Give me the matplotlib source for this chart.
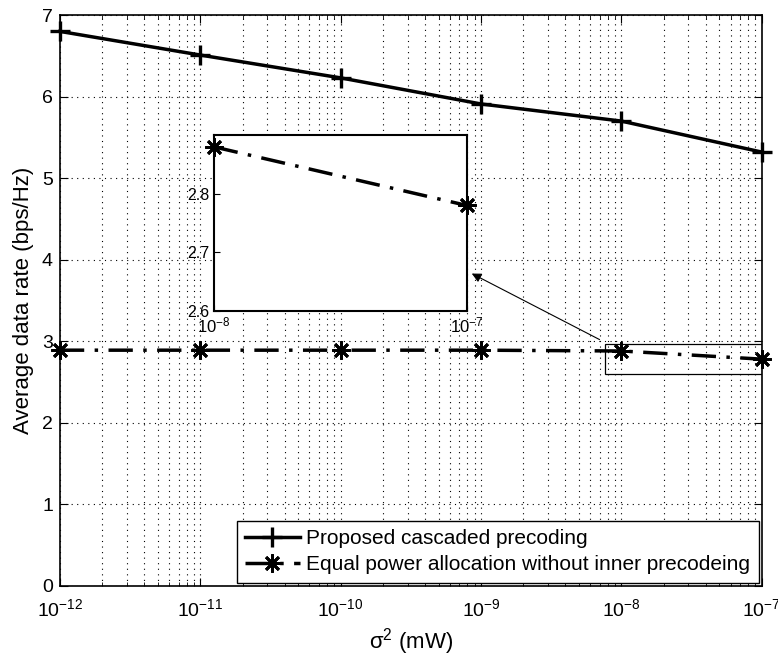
import matplotlib
matplotlib.use("Agg")
import matplotlib.pyplot as plt
from matplotlib.patches import Rectangle

plt.rcParams['font.family'] = ['Liberation Sans', 'DejaVu Sans']
plt.rcParams['mathtext.fontset'] = 'custom'
plt.rcParams['mathtext.rm'] = 'Liberation Sans'
plt.rcParams['mathtext.it'] = 'Liberation Sans:italic'

sigma2 = [1e-12, 1e-11, 1e-10, 1e-9, 1e-8, 1e-7]
proposed = [6.80, 6.51, 6.23, 5.91, 5.70, 5.32]
equal_power = [2.89, 2.89, 2.89, 2.89, 2.88, 2.78]
labels = ["Proposed cascaded precoding",
          "Equal power allocation without inner precodeing"]

fig = plt.figure(figsize=(7.78, 6.56), dpi=100)
ax = fig.add_axes([0.077, 0.107, 0.902, 0.870])

asterisk = (8, 2, 0)
dash = (0, (7, 3, 1.0, 3))
ax.plot(sigma2, proposed, color='black', lw=2.5, marker='+', ms=15, mew=2.4,
        label=labels[0], clip_on=False, zorder=6)
ax.plot(sigma2, equal_power, color='black', lw=2.5, ls=dash, marker=asterisk,
        ms=13, mew=2.0, label=labels[1], clip_on=False, zorder=6)

ax.set_xscale('log')
ax.set_xlim(1e-12, 1e-7)
ax.set_ylim(0, 7)
ax.set_yticks(range(0, 8))
ax.grid(True, which='major', ls=(0, (1, 4)), color='black', lw=0.8)
ax.grid(True, which='minor', axis='x', ls=(0, (1, 4)), color='black', lw=0.8)
ax.tick_params(which='both', direction='in', top=True, right=True, labelsize=14)
ax.tick_params(which='major', length=6)
ax.tick_params(which='minor', length=3)
ax.tick_params(axis='x', which='major', pad=9)
ax.tick_params(axis='y', which='major', pad=5)
for s in ax.spines.values():
    s.set_linewidth(1.2)
ax.set_xlabel('σ$^2$ (mW)', fontsize=16, labelpad=4)
ax.set_ylabel('Average data rate (bps/Hz)', fontsize=16, labelpad=6)

leg = ax.legend(loc='lower right', fontsize=15, frameon=True, fancybox=False,
                edgecolor='black', borderpad=0.4, handlelength=2.64,
                handletextpad=0.3, labelspacing=0.35, borderaxespad=0.15,
                framealpha=1)
leg.get_frame().set_linewidth(1.0)

# zoom rectangle on main axes
ax.add_patch(Rectangle((7.6e-9, 2.6), 1e-7 - 7.6e-9, 0.37, fill=False,
                       ec='black', lw=0.9, zorder=5))

# inset
axin = fig.add_axes([0.275, 0.526, 0.325, 0.268])
axin.plot(sigma2[4:], equal_power[4:], color='black', lw=2.5, ls=dash,
          marker=asterisk, ms=13, mew=2.0, clip_on=False)
axin.set_xscale('log')
axin.set_xlim(1e-8, 1e-7)
axin.set_ylim(2.6, 2.9)
axin.set_yticks([2.6, 2.7, 2.8])
axin.set_xticks([1e-8, 1e-7])
axin.minorticks_off()
axin.tick_params(direction='in', labelsize=12, length=4)
axin.tick_params(axis='y', labelsize=11.5, pad=3)
for s in axin.spines.values():
    s.set_linewidth(1.5)

ax.annotate('', xy=(8.6e-10, 3.83), xytext=(7.0e-9, 3.02),
            arrowprops=dict(arrowstyle='-|>', color='black', lw=0.8,
                            mutation_scale=14, shrinkA=0, shrinkB=0))

fig.savefig('out.png', dpi=100)
